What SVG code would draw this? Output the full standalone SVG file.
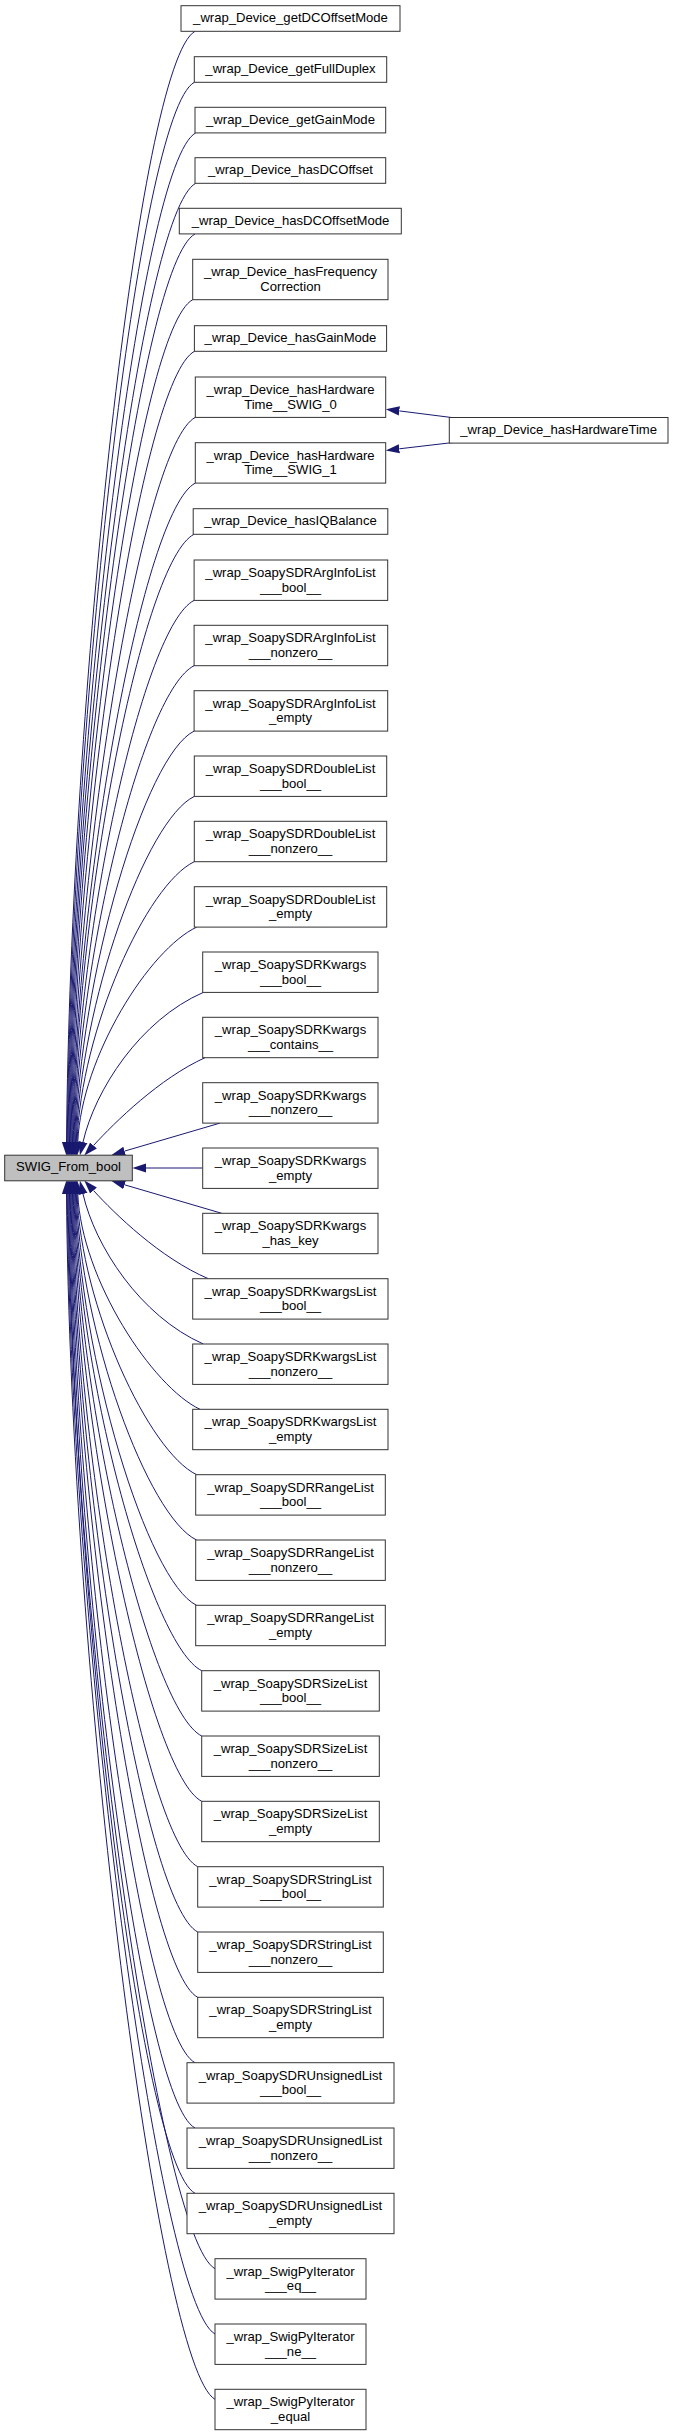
<svg xmlns="http://www.w3.org/2000/svg" width="673" height="2435" viewBox="0 0 673 2435">
<style>
.n rect{fill:#fff;stroke:#333;stroke-width:1}
#root rect{fill:#bfbfbf}
text{font-family:"Liberation Sans",Arial,sans-serif;font-size:13.1px;fill:#000;text-anchor:middle}
#edges path{fill:none;stroke:#191970;stroke-width:1;marker-end:url(#ah)}
</style>
<defs>
<marker id="ah" markerUnits="userSpaceOnUse" viewBox="0 -5 14 10" refX="0" refY="0" markerWidth="14" markerHeight="10" orient="auto">
<path d="M0,-4.6 L13.6,0 L0,4.6 z" fill="#191970" stroke="none"/>
</marker>
</defs>
<rect width="673" height="2435" fill="#fff"/>
<g id="edges">
<path d="M195,31.3 C138.9,62.4 70.5,697.7 66.5,1142"/>
<path d="M194.3,82.3 C138.7,112.9 71.25,718.1 67.25,1142"/>
<path d="M195.7,132.9 C140.6,163 72,738.4 68,1142"/>
<path d="M195.7,183.3 C141.1,212.9 72.75,758.5 68.75,1142"/>
<path d="M195,234 C140.9,263.1 73.5,778.8 69.5,1142"/>
<path d="M192.7,299.7 C139.3,328.1 74.25,805.1 70.25,1142"/>
<path d="M194.5,351.3 C141.6,379.2 75,825.7 71,1142"/>
<path d="M195.3,417.4 C143.1,444.6 75.75,852.2 71.75,1142"/>
<path d="M195.3,483.1 C143.7,509.7 76.5,878.4 72.5,1142"/>
<path d="M194,534.3 C142.9,560.4 77.25,898.9 73.25,1142"/>
<path d="M194.1,600.4 C143.7,625.8 78,925.4 74,1142"/>
<path d="M194.1,665.7 C144.3,690.5 78.75,951.5 74.75,1142"/>
<path d="M194.1,731.1 C145,755.2 79.5,977.6 75.5,1142"/>
<path d="M194.3,796.4 C145.8,819.9 80.25,1003.8 76.25,1142"/>
<path d="M194.3,861.7 C146.5,884.5 81,1029.9 77,1142"/>
<path d="M196.7,927.1 C149.6,949.2 81.75,1056 77.75,1142"/>
<path d="M203.3,992.4 C140,1020 95,1090 83,1142"/>
<path d="M205,1057.7 C160,1078 115,1122 93.5,1145.5"/>
<path d="M220,1123.1 L124.6,1151.1"/>
<path d="M202.7,1168 L146,1168"/>
<path d="M221.7,1213.3 L124.6,1184.8"/>
<path d="M208.3,1278.7 C160,1258 115,1214 93.5,1190.5"/>
<path d="M203.3,1344 C140,1316 95,1246 83,1194"/>
<path d="M200,1409.3 C152.8,1387.1 81.75,1280.1 77.75,1194"/>
<path d="M196.7,1474.7 C148.9,1451.9 81,1306.3 77,1194"/>
<path d="M196.5,1540 C148,1516.5 80.25,1332.4 76.25,1194"/>
<path d="M196.5,1605.3 C147.4,1581.2 79.5,1358.5 75.5,1194"/>
<path d="M201.7,1670.7 C151.9,1645.9 78.75,1384.7 74.75,1194"/>
<path d="M201.7,1736 C151.3,1710.6 78,1410.8 74,1194"/>
<path d="M201.7,1801.3 C150.6,1775.2 77.25,1436.9 73.25,1194"/>
<path d="M197.7,1866.7 C146,1840 76.5,1463.1 72.5,1194"/>
<path d="M197.7,1932 C145.3,1904.6 75.75,1489.2 71.75,1194"/>
<path d="M197.7,1997.3 C144.7,1969.3 75,1515.3 71,1194"/>
<path d="M195,2062.7 C141.3,2034 74.25,1541.5 70.25,1194"/>
<path d="M195,2128 C140.7,2098.7 73.5,1567.6 69.5,1194"/>
<path d="M195,2193.3 C140,2163.3 72.75,1593.7 68.75,1194"/>
<path d="M215,2268.7 C159.3,2238 72,1623.9 68,1194"/>
<path d="M215,2334 C158.6,2302.6 71.25,1650 67.25,1194"/>
<path d="M215,2399.3 C157.9,2367.2 70.5,1676.1 66.5,1194"/>
<path d="M453,417.7 L399.3,410.9"/>
<path d="M453,442.5 L399.3,448.8"/>
</g>
<g id="root" class="n"><rect x="4.7" y="1155.2" width="127.6" height="25.6"/><text x="68.5" y="1171">SWIG_From_bool</text></g>
<g id="n_hasHardwareTime" class="n"><rect x="449.3" y="417.5" width="218.7" height="25.6"/><text x="558.7" y="434">_wrap_Device_hasHardwareTime</text></g>
<g id="n1" class="n"><rect x="181" y="5.7" width="219" height="25.6"/><text x="290.5" y="22.1">_wrap_Device_getDCOffsetMode</text></g>
<g id="n2" class="n"><rect x="194.3" y="56.7" width="192.4" height="25.6"/><text x="290.5" y="73.1">_wrap_Device_getFullDuplex</text></g>
<g id="n3" class="n"><rect x="195" y="107.3" width="190.7" height="25.6"/><text x="290.5" y="123.7">_wrap_Device_getGainMode</text></g>
<g id="n4" class="n"><rect x="195" y="157.7" width="190.7" height="25.6"/><text x="290.5" y="174.1">_wrap_Device_hasDCOffset</text></g>
<g id="n5" class="n"><rect x="179.3" y="208.3" width="222" height="25.6"/><text x="290.5" y="224.7">_wrap_Device_hasDCOffsetMode</text></g>
<g id="n6" class="n"><rect x="192.7" y="259.3" width="195.3" height="40.4"/><text x="290.5" y="276.1">_wrap_Device_hasFrequency</text><text x="290.5" y="290.8">Correction</text></g>
<g id="n7" class="n"><rect x="194.4" y="325.7" width="192.2" height="25.6"/><text x="290.5" y="342.1">_wrap_Device_hasGainMode</text></g>
<g id="n8" class="n"><rect x="195.3" y="377" width="190.4" height="40.4"/><text x="290.5" y="393.8">_wrap_Device_hasHardware</text><text x="290.5" y="408.5">Time__SWIG_0</text></g>
<g id="n9" class="n"><rect x="195.3" y="442.7" width="190.4" height="40.4"/><text x="290.5" y="459.5">_wrap_Device_hasHardware</text><text x="290.5" y="474.2">Time__SWIG_1</text></g>
<g id="n10" class="n"><rect x="193.2" y="508.7" width="194.6" height="25.6"/><text x="290.5" y="525.1">_wrap_Device_hasIQBalance</text></g>
<g id="n11" class="n"><rect x="194.1" y="560" width="193.6" height="40.4"/><text x="290.5" y="576.8">_wrap_SoapySDRArgInfoList</text><text x="290.5" y="591.5">___bool__</text></g>
<g id="n12" class="n"><rect x="194.1" y="625.3" width="193.6" height="40.4"/><text x="290.5" y="642.1">_wrap_SoapySDRArgInfoList</text><text x="290.5" y="656.8">___nonzero__</text></g>
<g id="n13" class="n"><rect x="194.1" y="690.7" width="193.6" height="40.4"/><text x="290.5" y="707.5">_wrap_SoapySDRArgInfoList</text><text x="290.5" y="722.2">_empty</text></g>
<g id="n14" class="n"><rect x="194.3" y="756" width="192.4" height="40.4"/><text x="290.5" y="772.8">_wrap_SoapySDRDoubleList</text><text x="290.5" y="787.5">___bool__</text></g>
<g id="n15" class="n"><rect x="194.3" y="821.3" width="192.4" height="40.4"/><text x="290.5" y="838.1">_wrap_SoapySDRDoubleList</text><text x="290.5" y="852.8">___nonzero__</text></g>
<g id="n16" class="n"><rect x="194.3" y="886.7" width="192.4" height="40.4"/><text x="290.5" y="903.5">_wrap_SoapySDRDoubleList</text><text x="290.5" y="918.2">_empty</text></g>
<g id="n17" class="n"><rect x="202.7" y="952" width="175.3" height="40.4"/><text x="290.5" y="968.8">_wrap_SoapySDRKwargs</text><text x="290.5" y="983.5">___bool__</text></g>
<g id="n18" class="n"><rect x="202.7" y="1017.3" width="175.3" height="40.4"/><text x="290.5" y="1034.1">_wrap_SoapySDRKwargs</text><text x="290.5" y="1048.8">___contains__</text></g>
<g id="n19" class="n"><rect x="202.7" y="1082.7" width="175.3" height="40.4"/><text x="290.5" y="1099.5">_wrap_SoapySDRKwargs</text><text x="290.5" y="1114.2">___nonzero__</text></g>
<g id="n20" class="n"><rect x="202.7" y="1148" width="175.3" height="40.4"/><text x="290.5" y="1164.8">_wrap_SoapySDRKwargs</text><text x="290.5" y="1179.5">_empty</text></g>
<g id="n21" class="n"><rect x="202.7" y="1213.3" width="175.3" height="40.4"/><text x="290.5" y="1230.1">_wrap_SoapySDRKwargs</text><text x="290.5" y="1244.8">_has_key</text></g>
<g id="n22" class="n"><rect x="192.7" y="1278.7" width="195.3" height="40.4"/><text x="290.5" y="1295.5">_wrap_SoapySDRKwargsList</text><text x="290.5" y="1310.2">___bool__</text></g>
<g id="n23" class="n"><rect x="192.7" y="1344" width="195.3" height="40.4"/><text x="290.5" y="1360.8">_wrap_SoapySDRKwargsList</text><text x="290.5" y="1375.5">___nonzero__</text></g>
<g id="n24" class="n"><rect x="192.7" y="1409.3" width="195.3" height="40.4"/><text x="290.5" y="1426.1">_wrap_SoapySDRKwargsList</text><text x="290.5" y="1440.8">_empty</text></g>
<g id="n25" class="n"><rect x="195.7" y="1474.7" width="189.6" height="40.4"/><text x="290.5" y="1491.5">_wrap_SoapySDRRangeList</text><text x="290.5" y="1506.2">___bool__</text></g>
<g id="n26" class="n"><rect x="195.7" y="1540" width="189.6" height="40.4"/><text x="290.5" y="1556.8">_wrap_SoapySDRRangeList</text><text x="290.5" y="1571.5">___nonzero__</text></g>
<g id="n27" class="n"><rect x="195.7" y="1605.3" width="189.6" height="40.4"/><text x="290.5" y="1622.1">_wrap_SoapySDRRangeList</text><text x="290.5" y="1636.8">_empty</text></g>
<g id="n28" class="n"><rect x="201.7" y="1670.7" width="177.6" height="40.4"/><text x="290.5" y="1687.5">_wrap_SoapySDRSizeList</text><text x="290.5" y="1702.2">___bool__</text></g>
<g id="n29" class="n"><rect x="201.7" y="1736" width="177.6" height="40.4"/><text x="290.5" y="1752.8">_wrap_SoapySDRSizeList</text><text x="290.5" y="1767.5">___nonzero__</text></g>
<g id="n30" class="n"><rect x="201.7" y="1801.3" width="177.6" height="40.4"/><text x="290.5" y="1818.1">_wrap_SoapySDRSizeList</text><text x="290.5" y="1832.8">_empty</text></g>
<g id="n31" class="n"><rect x="197.7" y="1866.7" width="185.6" height="40.4"/><text x="290.5" y="1883.5">_wrap_SoapySDRStringList</text><text x="290.5" y="1898.2">___bool__</text></g>
<g id="n32" class="n"><rect x="197.7" y="1932" width="185.6" height="40.4"/><text x="290.5" y="1948.8">_wrap_SoapySDRStringList</text><text x="290.5" y="1963.5">___nonzero__</text></g>
<g id="n33" class="n"><rect x="197.7" y="1997.3" width="185.6" height="40.4"/><text x="290.5" y="2014.1">_wrap_SoapySDRStringList</text><text x="290.5" y="2028.8">_empty</text></g>
<g id="n34" class="n"><rect x="187" y="2062.7" width="207" height="40.4"/><text x="290.5" y="2079.5">_wrap_SoapySDRUnsignedList</text><text x="290.5" y="2094.2">___bool__</text></g>
<g id="n35" class="n"><rect x="187" y="2128" width="207" height="40.4"/><text x="290.5" y="2144.8">_wrap_SoapySDRUnsignedList</text><text x="290.5" y="2159.5">___nonzero__</text></g>
<g id="n36" class="n"><rect x="187" y="2193.3" width="207" height="40.4"/><text x="290.5" y="2210.1">_wrap_SoapySDRUnsignedList</text><text x="290.5" y="2224.8">_empty</text></g>
<g id="n37" class="n"><rect x="215" y="2258.7" width="151" height="40.4"/><text x="290.5" y="2275.5">_wrap_SwigPyIterator</text><text x="290.5" y="2290.2">___eq__</text></g>
<g id="n38" class="n"><rect x="215" y="2324" width="151" height="40.4"/><text x="290.5" y="2340.8">_wrap_SwigPyIterator</text><text x="290.5" y="2355.5">___ne__</text></g>
<g id="n39" class="n"><rect x="215" y="2389.3" width="151" height="40.4"/><text x="290.5" y="2406.1">_wrap_SwigPyIterator</text><text x="290.5" y="2420.8">_equal</text></g>
</svg>
